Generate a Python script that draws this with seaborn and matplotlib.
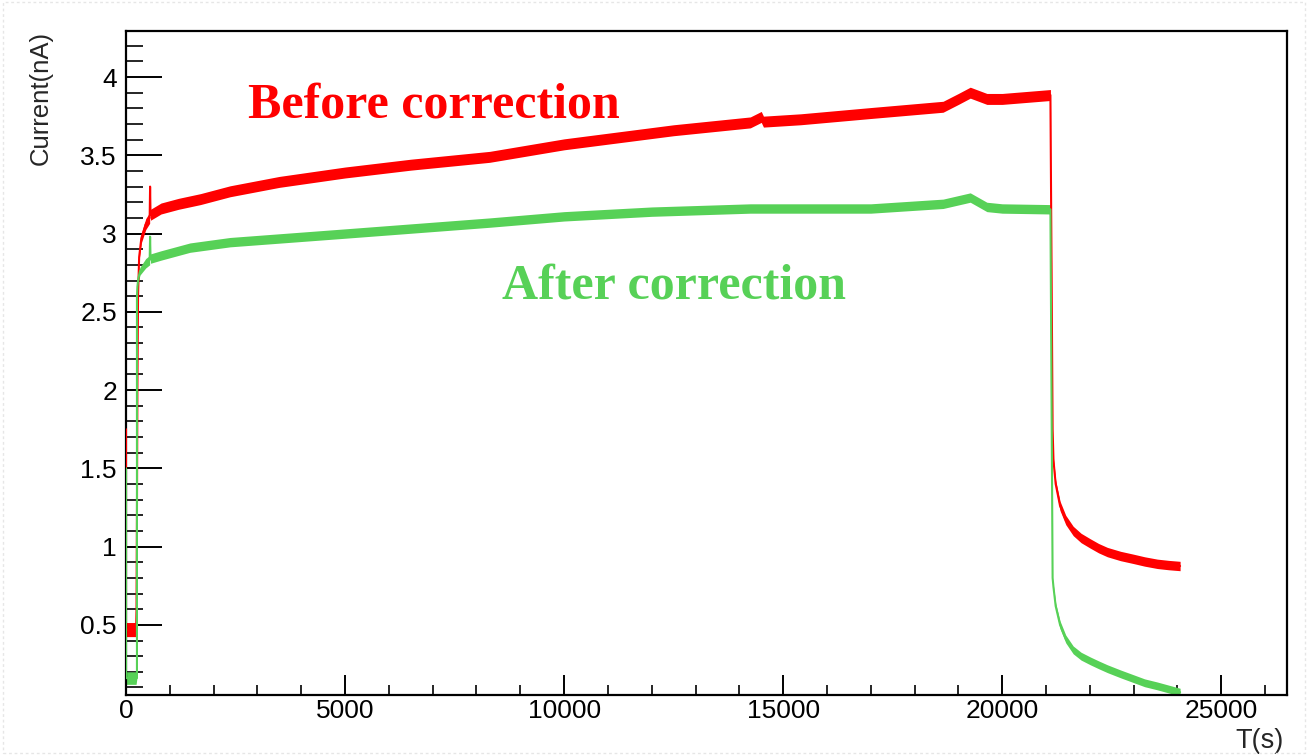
import numpy as np
import pandas as pd
import matplotlib
matplotlib.use("Agg")
import matplotlib.pyplot as plt
from matplotlib.ticker import MultipleLocator, FixedLocator, FuncFormatter
import seaborn as sns

# ---------------- data ----------------
red_t = [0, 0, 10, 120, 230, 240, 250, 260, 275, 300, 350, 450, 540, 550, 560,
         800, 1200, 1700, 2375, 3500, 5000, 6500, 8300, 10000, 12500, 14250,
         14500, 14550, 15400, 17000, 18650, 19000, 19270, 19650, 20000, 21100,
         21150, 21170, 21220, 21320, 21450, 21620, 21800, 22010, 22200, 22400,
         22700, 22990, 23250, 23540, 23800, 24060]
red_y = [1.75, 0.47, 0.47, 0.47, 0.47, 0.60, 1.20, 2.00, 2.60, 2.85, 2.97, 3.06,
         3.10, 3.30, 3.12, 3.16, 3.19, 3.22, 3.27, 3.33, 3.39, 3.44, 3.49, 3.57,
         3.66, 3.71, 3.745, 3.715, 3.73, 3.77, 3.81, 3.86, 3.90, 3.86, 3.86, 3.885,
         1.75, 1.55, 1.40, 1.26, 1.17, 1.10, 1.055, 1.02, 0.99, 0.965,
         0.94, 0.922, 0.905, 0.89, 0.882, 0.876]
red_hw = [0.0, 0.0, 0.045, 0.045, 0.045, 0.0, 0.0, 0.0, 0.0, 0.02, 0.03, 0.035,
          0.035, 0.0, 0.035, 0.035, 0.035, 0.035, 0.035, 0.035, 0.035, 0.035,
          0.035, 0.035, 0.035, 0.035, 0.035, 0.035, 0.035, 0.035, 0.035, 0.035,
          0.035, 0.035, 0.035, 0.035,
          0.0, 0.015, 0.025, 0.03, 0.03, 0.03, 0.03, 0.03, 0.03, 0.03,
          0.03, 0.03, 0.03, 0.03, 0.03, 0.03]

green_t = [0, 0, 10, 120, 230, 250, 250, 260, 280, 320, 450, 540, 550, 560,
           800, 1460, 2375, 5000, 8300, 10000, 12000, 14250, 15400, 17000,
           18650, 19270, 19650, 20000, 21100, 21150, 21170, 21220, 21320, 21450,
           21620, 21800, 22010, 22200, 22400, 22700, 22990, 23250, 23540, 23800,
           24060]
green_y = [1.50, 0.16, 0.16, 0.16, 0.16, 0.16, 2.60, 2.66, 2.71, 2.76, 2.81,
           2.83, 2.98, 2.84, 2.86, 2.91, 2.945, 3.00, 3.07, 3.11, 3.14, 3.16,
           3.16, 3.16, 3.19, 3.23, 3.17, 3.16, 3.155, 0.80, 0.74, 0.62, 0.50,
           0.41, 0.34, 0.30, 0.27, 0.245, 0.22, 0.187, 0.157, 0.13, 0.11, 0.09,
           0.07]
green_hw = [0.0, 0.0, 0.04, 0.04, 0.04, 0.0, 0.0, 0.0, 0.02, 0.025, 0.03, 0.03,
            0.0, 0.03, 0.03, 0.03, 0.03, 0.03, 0.03, 0.03, 0.03, 0.03, 0.03,
            0.03, 0.03, 0.03, 0.03, 0.03, 0.03, 0.0, 0.01, 0.02, 0.025, 0.025,
            0.025, 0.025, 0.025, 0.025, 0.025, 0.025, 0.025, 0.025, 0.025,
            0.025, 0.025]

x_ticks = [0, 5000, 10000, 15000, 20000, 25000]
y_ticks = [0.5, 1, 1.5, 2, 2.5, 3, 3.5, 4]
label_before = "Before correction"
label_after = "After correction"

RED = "#ff0000"
GREEN = "#57d157"

# ---------------- styling ----------------
sns.set_theme(style="white")
plt.rcParams["font.family"] = ["Liberation Sans", "DejaVu Sans"]

fig = plt.figure(figsize=(13.08, 7.55), dpi=100)
ax = fig.add_axes([126 / 1308, 60 / 755, 1161 / 1308, 664 / 755])

red = pd.DataFrame({"t": red_t, "y": red_y, "hw": red_hw})
green = pd.DataFrame({"t": green_t, "y": green_y, "hw": green_hw})

for df, c in ((red, RED), (green, GREEN)):
    ax.fill_between(df["t"], df["y"] - df["hw"], df["y"] + df["hw"],
                    color=c, linewidth=0, zorder=2)
    sns.lineplot(data=df, x="t", y="y", color=c, linewidth=1.5,
                 estimator=None, sort=False, ax=ax, zorder=3)

ax.set_xlim(0, 26500)
ax.set_ylim(0.052, 4.294)

ax.xaxis.set_major_locator(FixedLocator(x_ticks))
ax.xaxis.set_minor_locator(MultipleLocator(1000))
ax.yaxis.set_major_locator(FixedLocator(y_ticks))
ax.yaxis.set_minor_locator(MultipleLocator(0.1))
ax.yaxis.set_major_formatter(FuncFormatter(lambda v, p: f"{v:g}"))
ax.xaxis.set_major_formatter(FuncFormatter(lambda v, p: f"{v:g}"))

ax.tick_params(axis="y", which="major", direction="in", length=26, width=1.4,
               labelsize=19, pad=6.5, left=True, right=False, colors="black")
ax.tick_params(axis="y", which="minor", direction="in", length=12, width=1.4,
               left=True, right=False)
ax.tick_params(axis="x", which="major", direction="in", length=14.4, width=1.4,
               labelsize=19, pad=3.0, bottom=True, top=False, colors="black")
ax.tick_params(axis="x", which="minor", direction="in", length=7.2, width=1.4,
               bottom=True, top=False)

for s in ax.spines.values():
    s.set_color("black")
    s.set_linewidth(1.6)

ax.set_ylabel("Current(nA)", fontsize=18.5, loc="top")
ax.yaxis.set_label_coords(-0.063, 1.0)
ax.set_xlabel("T(s)", fontsize=19.5, loc="right")
ax.xaxis.set_label_coords(0.9974, -0.049)

fig.text(248 / 1308, (755 - 117) / 755, label_before, color=RED,
         fontsize=36, fontweight="bold", family="Liberation Serif",
         ha="left", va="baseline")
fig.text(502 / 1308, (755 - 298) / 755, label_after, color=GREEN,
         fontsize=36, fontweight="bold", family="Liberation Serif",
         ha="left", va="baseline")

# light dotted canvas border
border = plt.Rectangle((0.002, 0.002), 0.996, 0.996, transform=fig.transFigure,
                       fill=False, edgecolor="#e6e6e6", linewidth=1.0,
                       linestyle=(0, (2, 2)))
fig.patches.append(border)

fig.savefig("out.png", dpi=100)
